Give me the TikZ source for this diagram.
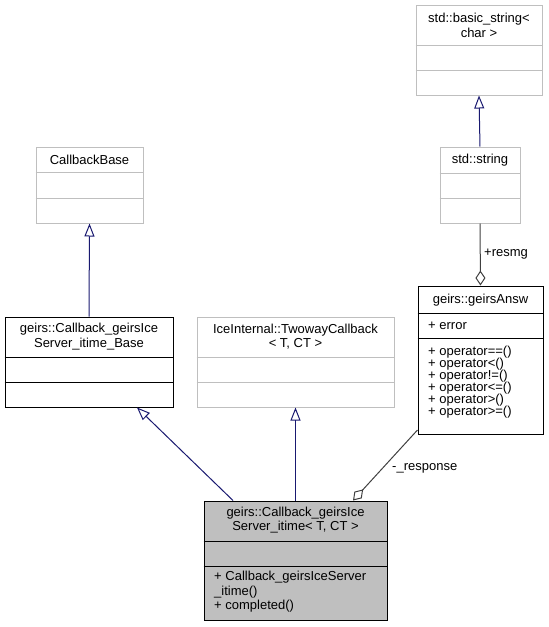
\documentclass[tikz,border=0pt]{standalone}
\usepackage{fontspec}
\setmainfont{Liberation Sans}
\usepackage{tikz}
\usetikzlibrary{arrows.meta}
\definecolor{edgeblue}{HTML}{191970}
\definecolor{aggrgray}{HTML}{404040}
\definecolor{extgray}{HTML}{BFBFBF}

\begin{document}
\begin{tikzpicture}[x=1pt,y=-1pt,
	extbox/.style={draw=extgray,line width=1pt,inner sep=0pt},
	docbox/.style={draw=black,line width=1pt,inner sep=0pt},
	txt/.style={inner sep=0pt,font=\fontsize{13}{14.5}\selectfont,align=center},
	mem/.style={txt,anchor=west,align=left},
	inherit/.style={edgeblue,line width=1pt,-{Triangle[open,length=13pt,width=10pt]}},
	aggr/.style={aggrgray,line width=1pt,-{Diamond[open,length=15pt,width=10pt]}}]
\useasboundingbox (0,0) rectangle (549,627);

% std::basic_string
\node[extbox,minimum width=126,minimum height=90] (bstr) at (479,50) {};
\node[txt] (t1) at (479,25.5) {std::basic\_string<\\char >};
\draw[extgray,line width=1pt] (bstr.west |- 0,45) -- (bstr.east |- 0,45);
\draw[extgray,line width=1pt] (bstr.west |- 0,70) -- (bstr.east |- 0,70);

% std::string
\node[extbox,minimum width=80,minimum height=76] (str) at (480,185) {};
\node[txt] (t2) at (480,160) {std::string};
\draw[extgray,line width=1pt] (str.west |- 0,173) -- (str.east |- 0,173);
\draw[extgray,line width=1pt] (str.west |- 0,198) -- (str.east |- 0,198);

% CallbackBase
\node[extbox,minimum width=107,minimum height=76] (cbbase) at (89.5,185) {};
\node[txt] (t3) at (89.5,160) {CallbackBase};
\draw[extgray,line width=1pt] (cbbase.west |- 0,172) -- (cbbase.east |- 0,172);
\draw[extgray,line width=1pt] (cbbase.west |- 0,198) -- (cbbase.east |- 0,198);

% Callback base class
\node[docbox,minimum width=168,minimum height=90] (base) at (89,362) {};
\node[txt] (t4) at (89,336.5) {geirs::Callback\_geirsIce\\Server\_itime\_Base};
\draw[line width=1pt] (base.west |- 0,357) -- (base.east |- 0,357);
\draw[line width=1pt] (base.west |- 0,382) -- (base.east |- 0,382);

% TwowayCallback
\node[extbox,minimum width=197,minimum height=90] (twoway) at (295.5,362) {};
\node[txt] (t5) at (295.5,336.5) {IceInternal::TwowayCallback\\< T, CT >};
\draw[extgray,line width=1pt] (twoway.west |- 0,357) -- (twoway.east |- 0,357);
\draw[extgray,line width=1pt] (twoway.west |- 0,382) -- (twoway.east |- 0,382);

% geirsAnsw
\node[docbox,minimum width=125,minimum height=148] (answ) at (480.5,360) {};
\node[txt] (t6) at (480.5,300) {geirs::geirsAnsw};
\draw[line width=1pt] (answ.west |- 0,313) -- (answ.east |- 0,313);
\draw[line width=1pt] (answ.west |- 0,338) -- (answ.east |- 0,338);
\node[mem] (err) at (428,325.5) {+ error};
\foreach \opn [count=\i from 0] in {==,<,!=,<=,>,>=}
	\node[mem] (op\i) at (428,352+12*\i) {+ operator\opn()};

% geirs::Callback_geirsIceServer_itime
\node[docbox,fill=extgray,minimum width=183,minimum height=119] (itime) at (295.5,560.5) {};
\node[txt] (t7) at (295.5,520) {geirs::Callback\_geirsIce\\Server\_itime< T, CT >};
\draw[line width=1pt] (itime.west |- 0,541) -- (itime.east |- 0,541);
\draw[line width=1pt] (itime.west |- 0,566) -- (itime.east |- 0,566);
\node[mem] (meth) at (214,592) {+ Callback\_geirsIceServer\\\_itime()\\+ completed()};

% edges
\draw[inherit] (str.north) -- (bstr.south);
\draw[inherit] (base.north) -- (cbbase.south);
\draw[inherit] (itime.north -| twoway.south) -- (twoway.south);
\draw[inherit] (itime.north -| 233,0) -- (base.south -| 137,0);
\draw[aggr] (str.south) -- (answ.north);
\draw[aggr] (answ.west |- 0,430) -- (itime.north -| 353,0);

\node[mem] (lresmg) at (484,254) {+resmg};
\node[mem] (lresp) at (392,468) {-\_response};
\end{tikzpicture}
\end{document}
